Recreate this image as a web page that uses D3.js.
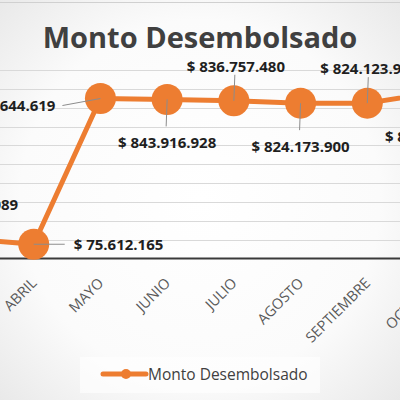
<!DOCTYPE html>
<html>
<head>
<meta charset="utf-8">
<script src="https://cdn.jsdelivr.net/npm/d3@7"></script>
<style>
  body { margin: 0; background: #fff; }
  svg { display: block; }
</style>
</head>
<body>
<script>
// datos del grafico (recortado)
var meses = ["MARZO", "ABRIL", "MAYO", "JUNIO", "JULIO", "AGOSTO", "SEPTIEMBRE", "OCTUBRE"];
var montos = [104215089, 75612165, 848644619, 843916928, 836757480, 824173900, 824123950, 879215340];
var etiquetas = ["$ 104.215.089", "$ 75.612.165", "$ 848.644.619", "$ 843.916.928",
                 "$ 836.757.480", "$ 824.173.900", "$ 824.123.950", "$ 879.215.340"];
var lugarEtiqueta = ["above", "right", "left", "below", "above", "below", "above", "below"];
var ticksY = [0, 100e6, 200e6, 300e6, 400e6, 500e6, 600e6, 700e6, 800e6, 900e6, 1000e6];

var w = 400, h = 400;
var naranja = "#ED7D31";

var svg = d3.select("body").append("svg")
    .attr("width", w)
    .attr("height", h);

// fondo con degradado suave
var defs = svg.append("defs");
var grad = defs.append("radialGradient").attr("id", "fondo")
    .attr("cx", "50%").attr("cy", "50%").attr("r", "75%");
grad.append("stop").attr("offset", "0%").attr("stop-color", "#ffffff");
grad.append("stop").attr("offset", "60%").attr("stop-color", "#fbfbfb");
grad.append("stop").attr("offset", "100%").attr("stop-color", "#e6e6e6");
svg.append("rect").attr("width", w).attr("height", h).attr("fill", "url(#fondo)");
svg.append("line").attr("x1", 0).attr("x2", w).attr("y1", 2.5).attr("y2", 2.5)
    .attr("stroke", "#d0d0d0").attr("stroke-width", 1);

var x = d3.scalePoint().domain(meses).range([-33, 434]);
var y = d3.scaleLinear().domain([0, 1000e6]).range([258.5, 70]);

// lineas de cuadricula
svg.append("g")
    .selectAll("line")
    .data(ticksY.slice(1))
    .enter()
    .append("line")
    .attr("x1", 0).attr("x2", w)
    .attr("y1", function(d){ return Math.round(y(d)) + 0.5; })
    .attr("y2", function(d){ return Math.round(y(d)) + 0.5; })
    .attr("stroke", "#d9d9d9")
    .attr("stroke-width", 1);

// eje x
svg.append("line")
    .attr("x1", 0).attr("x2", w)
    .attr("y1", y(0)).attr("y2", y(0))
    .attr("stroke", "#3a3a3a").attr("stroke-width", 2.2);

svg.append("g")
    .selectAll("text")
    .data(meses)
    .enter()
    .append("text")
    .text(function(d){ return d; })
    .attr("transform", function(d){ return "translate(" + (x(d) + 4) + ",284) rotate(-45)"; })
    .attr("text-anchor", "end")
    .attr("font-family", "Open Sans")
    .attr("font-size", 14.5)
    .attr("fill", "#595959");

// titulo
svg.append("text")
    .text("Monto Desembolsado")
    .attr("x", 200).attr("y", 48)
    .attr("text-anchor", "middle")
    .attr("font-family", "Open Sans")
    .attr("font-weight", "bold")
    .attr("font-size", 29)
    .attr("fill", "#404040");

var puntos = meses.map(function(m, i){
    return { mes: m, valor: montos[i], etiqueta: etiquetas[i], lugar: lugarEtiqueta[i] };
});

// linea
var linea = d3.line()
    .x(function(d){ return x(d.mes); })
    .y(function(d){ return y(d.valor); });

svg.append("path")
    .datum(puntos)
    .attr("d", linea)
    .attr("fill", "none")
    .attr("stroke", naranja)
    .attr("stroke-width", 5)
    .attr("stroke-linejoin", "round");

// marcadores
svg.append("g")
    .selectAll("circle")
    .data(puntos)
    .enter()
    .append("circle")
    .attr("cx", function(d){ return x(d.mes); })
    .attr("cy", function(d){ return y(d.valor); })
    .attr("r", 15.5)
    .attr("fill", naranja);

// lineas guia de las etiquetas
function guia(d){
    var px = x(d.mes), py = y(d.valor);
    if (d.lugar == "above") return [px, py, px + 1, py - 26];
    if (d.lugar == "below") return [px, py, px - 1, py + 27];
    if (d.lugar == "right") return [px, py, px + 31, py];
    return [px, py, px - 38, py + 7];
}
svg.append("g")
    .selectAll("line")
    .data(puntos)
    .enter()
    .append("line")
    .attr("x1", function(d){ return guia(d)[0]; })
    .attr("y1", function(d){ return guia(d)[1]; })
    .attr("x2", function(d){ return guia(d)[2]; })
    .attr("y2", function(d){ return guia(d)[3]; })
    .attr("stroke", "#8c8c8c")
    .attr("stroke-width", 1);

// etiquetas de datos
svg.append("g")
    .selectAll("text")
    .data(puntos)
    .enter()
    .append("text")
    .text(function(d){ return d.etiqueta; })
    .attr("x", function(d){
        var px = x(d.mes);
        if (d.lugar == "right") return px + 40;
        if (d.lugar == "left") return px - 45;
        return px + (d.lugar == "above" ? 2 : 0);
    })
    .attr("y", function(d){
        var py = y(d.valor);
        if (d.lugar == "above") return py - 29;
        if (d.lugar == "below") return py + 49;
        if (d.lugar == "right") return py + 6;
        return py + 12;
    })
    .attr("text-anchor", function(d){
        if (d.lugar == "right") return "start";
        if (d.lugar == "left") return "end";
        return "middle";
    })
    .attr("font-family", "Open Sans")
    .attr("font-weight", "bold")
    .attr("font-size", 15)
    .attr("fill", "#1f1f1f");

// leyenda
var ley = svg.append("g");
ley.append("rect")
    .attr("x", 80).attr("y", 357).attr("width", 240).attr("height", 36)
    .attr("fill", "#ffffff").attr("opacity", 0.6);
ley.append("line")
    .attr("x1", 103).attr("x2", 146).attr("y1", 374).attr("y2", 374)
    .attr("stroke", naranja).attr("stroke-width", 5).attr("stroke-linecap", "round");
ley.append("circle")
    .attr("cx", 126).attr("cy", 374).attr("r", 5).attr("fill", naranja);
ley.append("text")
    .text("Monto Desembolsado")
    .attr("x", 148).attr("y", 380)
    .attr("font-family", "Open Sans")
    .attr("font-size", 15.5)
    .attr("fill", "#404040");
</script>
</body>
</html>
